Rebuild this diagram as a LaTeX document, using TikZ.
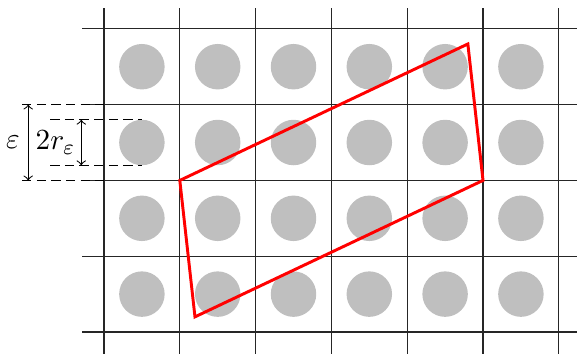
\documentclass[tikz,border=0pt]{standalone}
\usepackage{amsmath}
\usepackage{xcolor}

\begin{document}
\begin{tikzpicture}[x=1cm, y=1cm,
        gridline/.style={line width=0.5pt, black!85},
        dimline/.style={line width=0.4pt, dash pattern=on 3.5pt off 2pt},
        cell/.style={black!25}]
        \useasboundingbox (-1.372, -0.277) rectangle (6.240, 4.380);
        \clip (-1.372, -0.277) rectangle (6.240, 4.380);
        \foreach \i in {0,...,5} {
            \foreach \j in {0,...,3} {
                \fill[cell] (\i+0.5, \j+0.5) circle (0.3);
            }
        }
        \foreach \i in {0,...,6} {
            \draw[gridline] (\i, -0.4)--(\i, 4.27);
        }
        \foreach \j in {0,...,4} {
            \draw[gridline] (-0.29, \j)--(6.4, \j);
        }
        % cell widths
        \draw[dimline] (-1.08, 3)--(0, 3);
        \draw[dimline] (-1.08, 2)--(0, 2);
        \draw[dimline] (-0.71, 2.8)--(0.5, 2.8);
        \draw[dimline] (-0.71, 2.2)--(0.5, 2.2);
        \draw[<->] (-1.0, 2)--(-1.0, 3);
        \draw[<->] (-0.3, 2.2)--(-0.3, 2.8);
        \node[font=\fontsize{11}{13}\selectfont] (eps) at (-1.2, 2.5) {$\varepsilon$};
        \node[font=\fontsize{11}{13}\selectfont] (reps) at (-0.64, 2.5) {$2r_\varepsilon$};
        % parallelogram
        \coordinate (A) at (1, 2);
        \coordinate (B) at (4.8, 3.8);
        \coordinate (C) at (5, 2);
        \coordinate (D) at (1.2, 0.2);
        \draw[red, line width=1.1pt] (A)--(B)--(C)--(D)--cycle;
    \end{tikzpicture}
\end{document}
